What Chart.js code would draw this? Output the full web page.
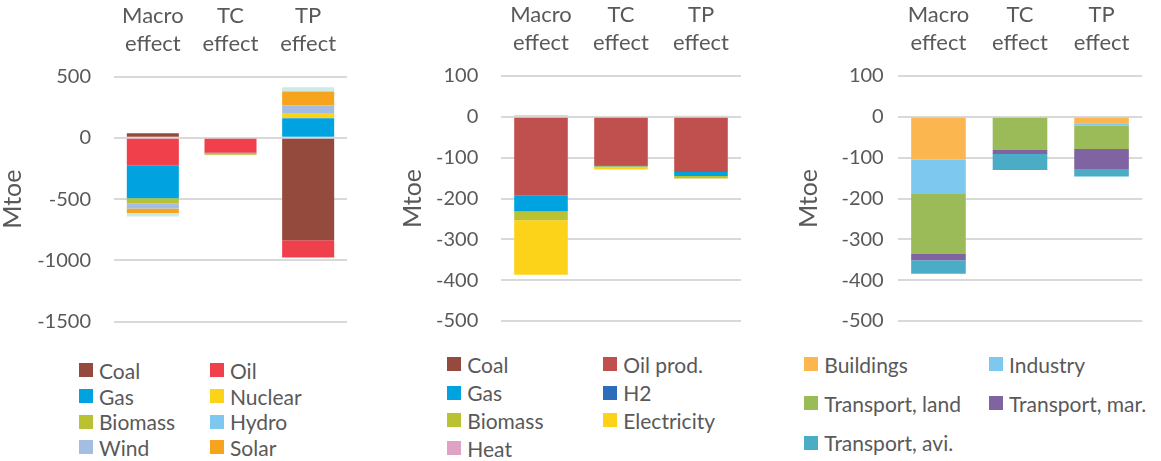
<!DOCTYPE html>
<html>
<head>
<meta charset="utf-8">
<script src="https://cdn.jsdelivr.net/npm/chart.js@4.4.1/dist/chart.umd.min.js"></script>
<style>
  body { margin: 0; background: #fff; }
  #wrap { position: relative; width: 1161px; height: 461px; overflow: hidden; font-family: Lato, sans-serif; }
  canvas { position: absolute; top: 0; }
  .lg { position: absolute; height: 24px; display: flex; align-items: center; font-size: 21px; color: #595959; white-space: nowrap; }
  .lg span.box { width: 14px; height: 14px; margin-right: 6px; display: inline-block; }
</style>
</head>
<body>
<div id="wrap">
  <canvas id="c1" width="387" height="340" style="left:0px"></canvas>
  <canvas id="c2" width="387" height="340" style="left:387px"></canvas>
  <canvas id="c3" width="387" height="340" style="left:774px"></canvas>
</div>
<script>
// Categories (same for all three panels)
const categories = [["Macro", "effect"], ["TC", "effect"], ["TP", "effect"]];

// Panel 1 - primary energy (Mtoe)
const coal1 = [37, 0, -836];
const oil1 = [-223, -121, -140];
const gas1 = [-270, -8, 159];
const nuclear1 = [0, -3, 38];
const biomass1 = [-40, -6, 0];
const hydro1 = [0, 0, 0];
const wind1 = [-43, 0, 67];
const solar1 = [-38, 0, 113];
const other1 = [-27, -4, 35];

// Panel 2 - final energy by carrier (Mtoe)
const coal2 = [0, 0, 0];
const oilProd2 = [-193, -118, -135];
const gas2 = [-39, -3, -10];
const h2_2 = [3, 0, 0];
const biomass2 = [-21, -3, -6];
const electricity2 = [-134, -5, 3];
const heat2 = [0, 0, 0];

// Panel 3 - final energy by sector (Mtoe)
const buildings3 = [-105, 0, -16];
const industry3 = [-84, 0, -6];
const land3 = [-147, -81, -57];
const mar3 = [-15, -10, -49];
const avi3 = [-33, -39, -18];

// Y axis ticks
const ticks1 = { min: -1500, max: 500, step: 500 };
const ticks23 = { min: -500, max: 100, step: 100 };

const grey = '#595959';

function ds(label, data, color) {
  return { label: label, data: data, backgroundColor: color, borderWidth: 0, stack: 's' };
}

const panels = [
  {
    id: 'c1', areaLeft: 114, padRight: 40, areaTop: 76.5, padBottom: 18.3,
    tickPad: 23, titlePad: 0, ticks: ticks1,
    legendX: [79, 210], legendY: [370, 396, 421.7, 447.3],
    datasets: [
      ds('Coal', coal1, '#954A3E'),
      ds('Oil', oil1, '#EF404B'),
      ds('Gas', gas1, '#00A3E0'),
      ds('Nuclear', nuclear1, '#FDD319'),
      ds('Biomass', biomass1, '#BAC232'),
      ds('Hydro', hydro1, '#7CC8EE'),
      ds('Wind', wind1, '#A4BDE2'),
      ds('Solar', solar1, '#F6A31E'),
      ds('Other', other1, '#CBEAE8')
    ]
  },
  {
    id: 'c2', areaLeft: 114, padRight: 33, areaTop: 76, padBottom: 19,
    tickPad: 22.7, titlePad: 13, ticks: ticks23,
    legendX: [447.3, 603.3], legendY: [364, 392.7, 420, 448],
    datasets: [
      ds('Coal', coal2, '#954A3E'),
      ds('Oil prod.', oilProd2, '#C0504D'),
      ds('Gas', gas2, '#00A3E0'),
      ds('H2', h2_2, '#2E6DB9'),
      ds('Biomass', biomass2, '#BAC232'),
      ds('Electricity', electricity2, '#FDD319'),
      ds('Heat', heat2, '#DFA1C4')
    ]
  },
  {
    id: 'c3', areaLeft: 123.7, padRight: 18.7, areaTop: 76, padBottom: 19,
    tickPad: 14, titlePad: 22.5, ticks: ticks23,
    legendX: [804.3, 989], legendY: [364, 403.3, 442.7],
    datasets: [
      ds('Buildings', buildings3, '#FBB64F'),
      ds('Industry', industry3, '#7CC8EE'),
      ds('Transport, land', land3, '#9BBB59'),
      ds('Transport, mar.', mar3, '#8064A2'),
      ds('Transport, avi.', avi3, '#4BACC6')
    ]
  }
];

const wrap = document.getElementById('wrap');

panels.forEach(p => {
  const chart = new Chart(document.getElementById(p.id), {
    type: 'bar',
    data: { labels: categories, datasets: p.datasets },
    options: {
      responsive: false,
      animation: false,
      categoryPercentage: 1,
      barPercentage: 0.67,
      layout: { padding: { left: 0, top: 0, right: p.padRight, bottom: p.padBottom } },
      plugins: { legend: { display: false }, tooltip: { enabled: false } },
      scales: {
        x: {
          position: 'top',
          stacked: true,
          grid: { display: false, drawTicks: false },
          border: { display: false },
          ticks: { color: grey, padding: 19, maxRotation: 0, font: { family: 'Lato', size: 22, lineHeight: 1.27 } },
          afterFit: s => { s.height = p.areaTop; s.paddingLeft = 0; s.paddingRight = 0; }
        },
        y: {
          stacked: true,
          min: p.ticks.min,
          max: p.ticks.max,
          grid: { color: '#D9D9D9', lineWidth: 2, drawTicks: false },
          border: { display: false },
          ticks: { stepSize: p.ticks.step, color: grey, padding: p.tickPad, font: { family: 'Lato', size: 20 }, callback: v => String(v) },
          title: { display: true, text: 'Mtoe', color: grey, padding: { top: p.titlePad, bottom: 0 }, font: { family: 'Lato', size: 25, lineHeight: 1 } },
          afterFit: s => { s.width = p.areaLeft; s.paddingTop = 0; s.paddingBottom = 0; }
        }
      }
    }
  });

  // HTML legend built from the chart's own legend items (two columns)
  const items = chart.options.plugins.legend.labels.generateLabels(chart).filter(it => it.text !== 'Other');
  items.forEach((it, i) => {
    const el = document.createElement('div');
    el.className = 'lg';
    el.style.left = p.legendX[i % 2] + 'px';
    el.style.top = (p.legendY[Math.floor(i / 2)] - 12) + 'px';
    const box = document.createElement('span');
    box.className = 'box';
    box.style.background = it.fillStyle;
    el.appendChild(box);
    el.appendChild(document.createTextNode(it.text));
    wrap.appendChild(el);
  });
});
</script>
</body>
</html>
